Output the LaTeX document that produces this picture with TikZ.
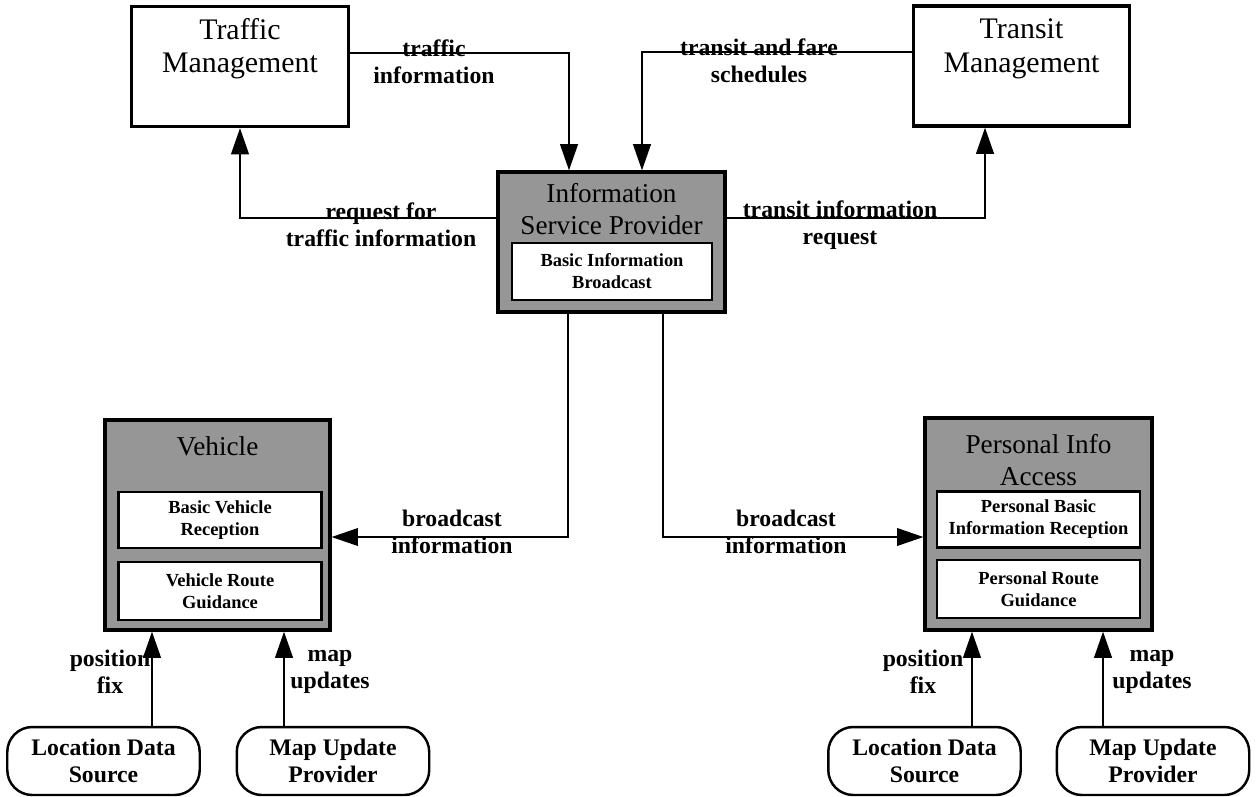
\documentclass[tikz,border=0pt]{standalone}
\usepackage{fontspec}
\setmainfont{Liberation Serif}
\usetikzlibrary{arrows.meta,positioning}
\definecolor{shade}{HTML}{969696}

\begin{document}
\begin{tikzpicture}[x=0.02cm,y=-0.02cm,
  mgmt/.style={draw,line width=1.8pt,minimum width=4.33cm,minimum height=2.4cm},
  mgmttext/.style={font=\fontsize{17}{19}\selectfont,align=center},
  unit/.style={draw,line width=1.8pt,fill=shade,minimum width=4.5cm},
  unittext/.style={font=\fontsize{15.5}{18}\selectfont,align=center},
  func/.style={draw,line width=1.2pt,fill=white,minimum width=4.06cm,minimum height=1.12cm,
    align=center,font=\bfseries\fontsize{10.5}{12.5}\selectfont},
  term/.style={draw,line width=1.4pt,rounded corners=0.5cm,minimum width=3.85cm,minimum height=1.36cm,
    align=center,font=\bfseries\fontsize{13.5}{15.5}\selectfont},
  flow/.style={line width=1.5pt,-{Triangle[length=15pt,width=10pt]}},
  lbl/.style={align=center,font=\bfseries\fontsize{13.5}{15.5}\selectfont}]
  \useasboundingbox (0,0) rectangle (1257,796);

  % management centres
  \node[mgmt] (tm) at (240,66.5) {};
  \node[mgmttext] (tmname) at (240,49) {Traffic\\Management};
  \node[mgmt] (tr) at (1021.5,66) {};
  \node[mgmttext] (trname) at (1021.5,49) {Transit\\Management};

  % information service provider
  \node[unit,minimum width=4.54cm,minimum height=2.8cm] (isp) at (611.5,242) {};
  \node[unittext] (ispname) at (611.5,209) {Information\\Service Provider};
  \node[func,minimum width=4cm,minimum height=1.14cm] (bib) at (612,271.5) {Basic Information\\Broadcast};

  % vehicle
  \node[unit,minimum height=4.2cm] (veh) at (217.5,525) {};
  \node[unittext] (vehname) at (217.5,446) {Vehicle};
  \node[func] (bvr) at (220,520) {Basic Vehicle\\Reception};
  \node[func,minimum height=1.16cm] (vrg) at (220,591) {Vehicle Route\\Guidance};

  % personal access
  \node[unit,minimum width=4.54cm,minimum height=4.24cm] (pia) at (1038.5,524) {};
  \node[unittext] (pianame) at (1038.5,460) {Personal Info\\Access};
  \node[func] (pbir) at (1038.5,519.5) {Personal Basic\\Information Reception};
  \node[func,minimum height=1.16cm] (prg) at (1038.5,589) {Personal Route\\Guidance};

  % data sources
  \node[term] (lds1) at (103.5,761) {Location Data\\Source};
  \node[term] (mup1) at (333,761) {Map Update\\Provider};
  \node[term] (lds2) at (924.5,761) {Location Data\\Source};
  \node[term] (mup2) at (1153,761) {Map Update\\Provider};

  % flows
  \draw[flow] ([yshift=0.27cm]tm.east) -| ([xshift=-0.85cm]isp.north);
  \draw[flow] ([yshift=0.28cm]tr.west) -| ([xshift=0.61cm]isp.north);
  \draw[flow] ([yshift=0.48cm]isp.west) -| (tm.south);
  \draw[flow] ([yshift=0.48cm]isp.east) -| ([xshift=-0.73cm]tr.south);
  \draw[flow,line width=1pt] ([xshift=-0.87cm]isp.south) |- ([yshift=-0.24cm]veh.east);
  \draw[flow,line width=1pt] ([xshift=1.03cm]isp.south) |- ([yshift=-0.26cm]pia.west);
  \draw[flow] ([xshift=0.97cm]lds1.north) -- ([xshift=0.97cm]lds1.north |- veh.south);
  \draw[flow] ([xshift=-0.98cm]mup1.north) -- ([xshift=-0.98cm]mup1.north |- veh.south);
  \draw[flow] ([xshift=0.95cm]lds2.north) -- ([xshift=0.95cm]lds2.north |- pia.south);
  \draw[flow] ([xshift=-1cm]mup2.north) -- ([xshift=-1cm]mup2.north |- pia.south);

  % flow labels
  \node[lbl] (l1) at (434,62) {traffic\\information};
  \node[lbl] (l2) at (759,61) {transit and fare\\schedules};
  \node[lbl] (l3) at (381,225) {request for\\traffic information};
  \node[lbl] (l4) at (840,225) {transit information\\request};
  \node[lbl] (l5) at (452,532) {broadcast\\information};
  \node[lbl] (l6) at (786,532) {broadcast\\information};
  \node[lbl] (l7) at (110,672) {position\\fix};
  \node[lbl] (l8) at (330,672) {map\\updates};
  \node[lbl] (l9) at (923,672) {position\\fix};
  \node[lbl] (l10) at (1152,672) {map\\updates};
\end{tikzpicture}
\end{document}
